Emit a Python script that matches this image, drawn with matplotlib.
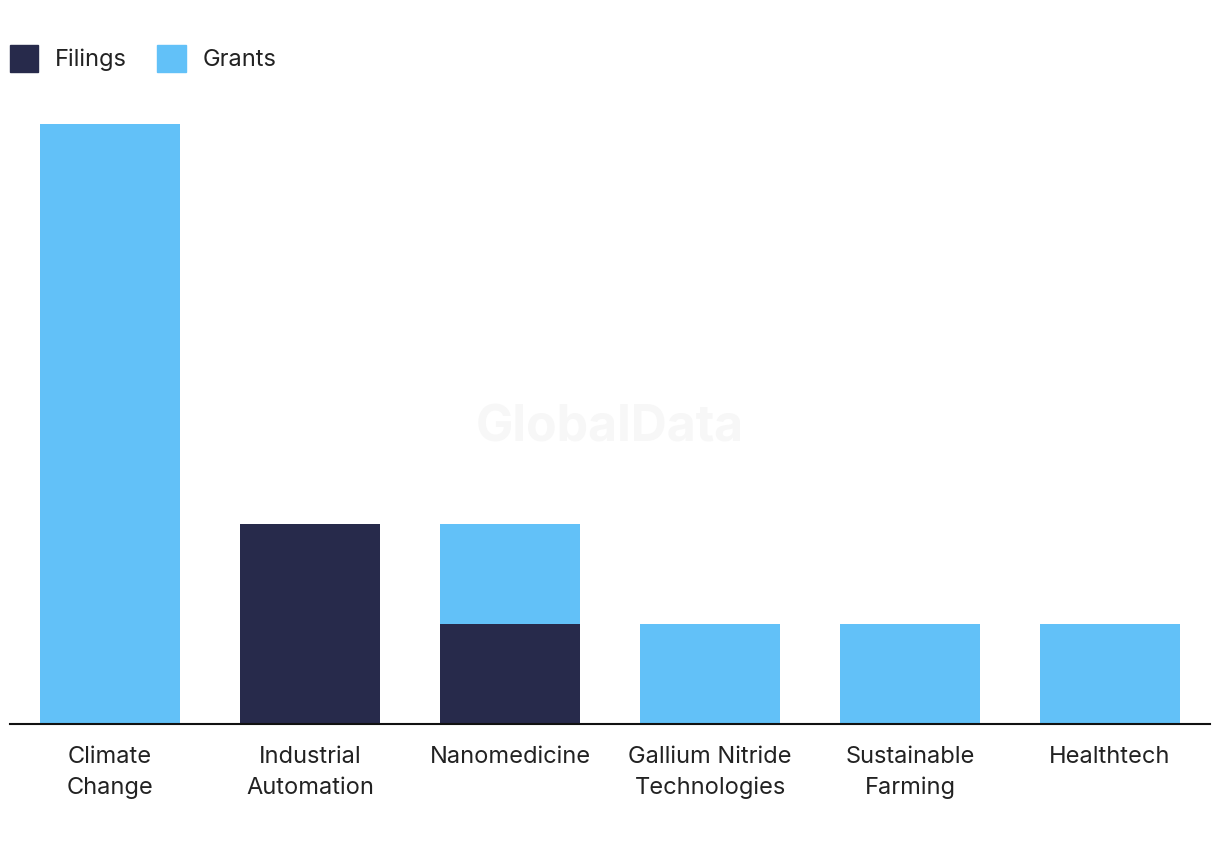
import matplotlib
matplotlib.use("Agg")
import matplotlib.pyplot as plt
from matplotlib.patches import Patch
import numpy as np

categories = ["Climate\nChange", "Industrial\nAutomation", "Nanomedicine",
              "Gallium Nitride\nTechnologies", "Sustainable\nFarming", "Healthtech"]
filings = [0, 2, 1, 0, 0, 0]
grants = [6, 0, 1, 1, 1, 1]

C_FIL = "#272A4B"
C_GRA = "#62C1F8"
TXT = "#222222"

plt.rcParams['font.family'] = ['Inter', 'DejaVu Sans']

fig = plt.figure(figsize=(12.2, 8.5), dpi=100)
ax = fig.add_axes([10/1220, 126/850, 1200/1220, 600/850])
x = np.arange(len(categories))
ax.bar(x, filings, width=0.7, color=C_FIL, label="Filings")
ax.bar(x, grants, width=0.7, bottom=filings, color=C_GRA, label="Grants")
ax.set_xlim(-0.5, len(categories) - 0.5)
ax.set_ylim(0, 6)
for s in ["top", "right", "left"]:
    ax.spines[s].set_visible(False)
ax.spines["bottom"].set_color("#111111")
ax.spines["bottom"].set_linewidth(1.5)
ax.set_yticks([])
ax.set_xticks(x)
ax.set_xticklabels(categories, fontsize=17, color=TXT, linespacing=1.5)
ax.tick_params(axis="x", length=0, pad=16)

fig.text(0.5, 1 - 428/850, "GlobalData", ha="center", va="center", fontsize=36,
         fontweight="bold", color="#f7f7f7", zorder=0)

handles = [Patch(color=C_FIL, label="Filings"), Patch(color=C_GRA, label="Grants")]
fig.legend(handles=handles, loc="upper left", bbox_to_anchor=(10/1220, 1 - 45/850),
           ncol=2, frameon=False, fontsize=17, handlelength=1.2, handleheight=1.35,
           handletextpad=0.7, columnspacing=1.3, borderaxespad=0, borderpad=0,
           labelcolor=TXT)

fig.savefig("out.png", dpi=100, facecolor="white")
